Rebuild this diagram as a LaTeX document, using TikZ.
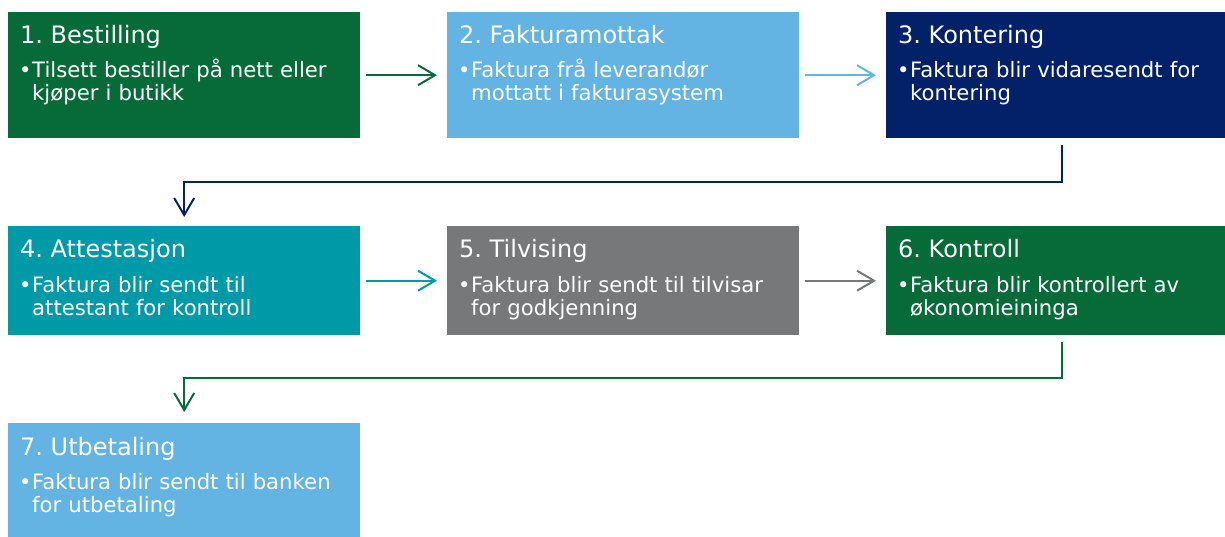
\documentclass[tikz,border=0pt]{standalone}
\usepackage{fontspec}
\setmainfont{DejaVu Sans}
\usetikzlibrary{arrows.meta}
\definecolor{cgreen}{HTML}{066B38}
\definecolor{clblue}{HTML}{63B3E3}
\definecolor{cnavy}{HTML}{022169}
\definecolor{cteal}{HTML}{0099A8}
\definecolor{cgray}{HTML}{76787A}
\tikzset{
  box/.style={rectangle, draw=none, inner sep=0pt, minimum width=352pt, anchor=north west},
  ttl/.style={anchor=base west, inner sep=0pt, text=white, font=\fontsize{24}{28}\selectfont\frenchspacing},
  bul/.style={anchor=base west, inner sep=0pt, text=white, font=\fontsize{21}{23}\selectfont},
  body/.style={anchor=base west, inner sep=0pt, text=white, text width=330pt, align=left, font=\fontsize{21.2}{23}\selectfont},
  arr/.style={line width=2pt, -{Straight Barb[length=17pt,width=20pt,line width=2pt]}},
}
\newcommand{\stepbox}[7]{%
  \node[box, fill=#2, minimum height=#5pt] (#1) at (#3,#4) {};
  \node[ttl] (#1t) at ([xshift=12pt,yshift=-32pt]#1.north west) {#6};
  \node[bul] (#1b) at ([xshift=11pt,yshift=-66pt]#1.north west) {•};
  \node[body] (#1x) at ([xshift=24pt,yshift=-66pt]#1.north west) {#7};
}
\begin{document}
\begin{tikzpicture}[x=1pt,y=-1pt]
\useasboundingbox[fill=white] (0,0) rectangle (1225,537);
\stepbox{b1}{cgreen}{8}{12}{126}{1. Bestilling}{Tilsett bestiller på nett eller\\kjøper i butikk}
\stepbox{b2}{clblue}{447}{12}{126}{2. Fakturamottak}{Faktura frå leverandør\\mottatt i fakturasystem}
\stepbox{b3}{cnavy}{886}{12}{126}{3. Kontering}{Faktura blir vidaresendt for\\kontering}
\stepbox{b4}{cteal}{8}{226}{109}{4. Attestasjon}{Faktura blir sendt til\\attestant for kontroll}
\stepbox{b5}{cgray}{447}{226}{109}{5. Tilvising}{Faktura blir sendt til tilvisar\\for godkjenning}
\stepbox{b6}{cgreen}{886}{226}{109}{6. Kontroll}{Faktura blir kontrollert av\\økonomieininga}
\stepbox{b7}{clblue}{8}{423}{114}{7. Utbetaling}{Faktura blir sendt til banken\\for utbetaling}
\draw[arr, draw=cgreen] ([xshift=6pt]b1.east) -- ([xshift=-10pt]b2.west);
\draw[arr, draw=clblue] ([xshift=6pt]b2.east) -- ([xshift=-10pt]b3.west);
\draw[arr, draw=cteal] ([xshift=6pt]b4.east) -- ([xshift=-10pt]b5.west);
\draw[arr, draw=cgray] ([xshift=6pt]b5.east) -- ([xshift=-10pt]b6.west);
\draw[arr, draw=cnavy] ([yshift=-7pt]b3.south) -- ++(0,37) -| ([yshift=9pt]b4.north);
\draw[arr, draw=cgreen] ([yshift=-7pt]b6.south) -- ++(0,36) -| ([yshift=11pt]b7.north);
\end{tikzpicture}
\end{document}
